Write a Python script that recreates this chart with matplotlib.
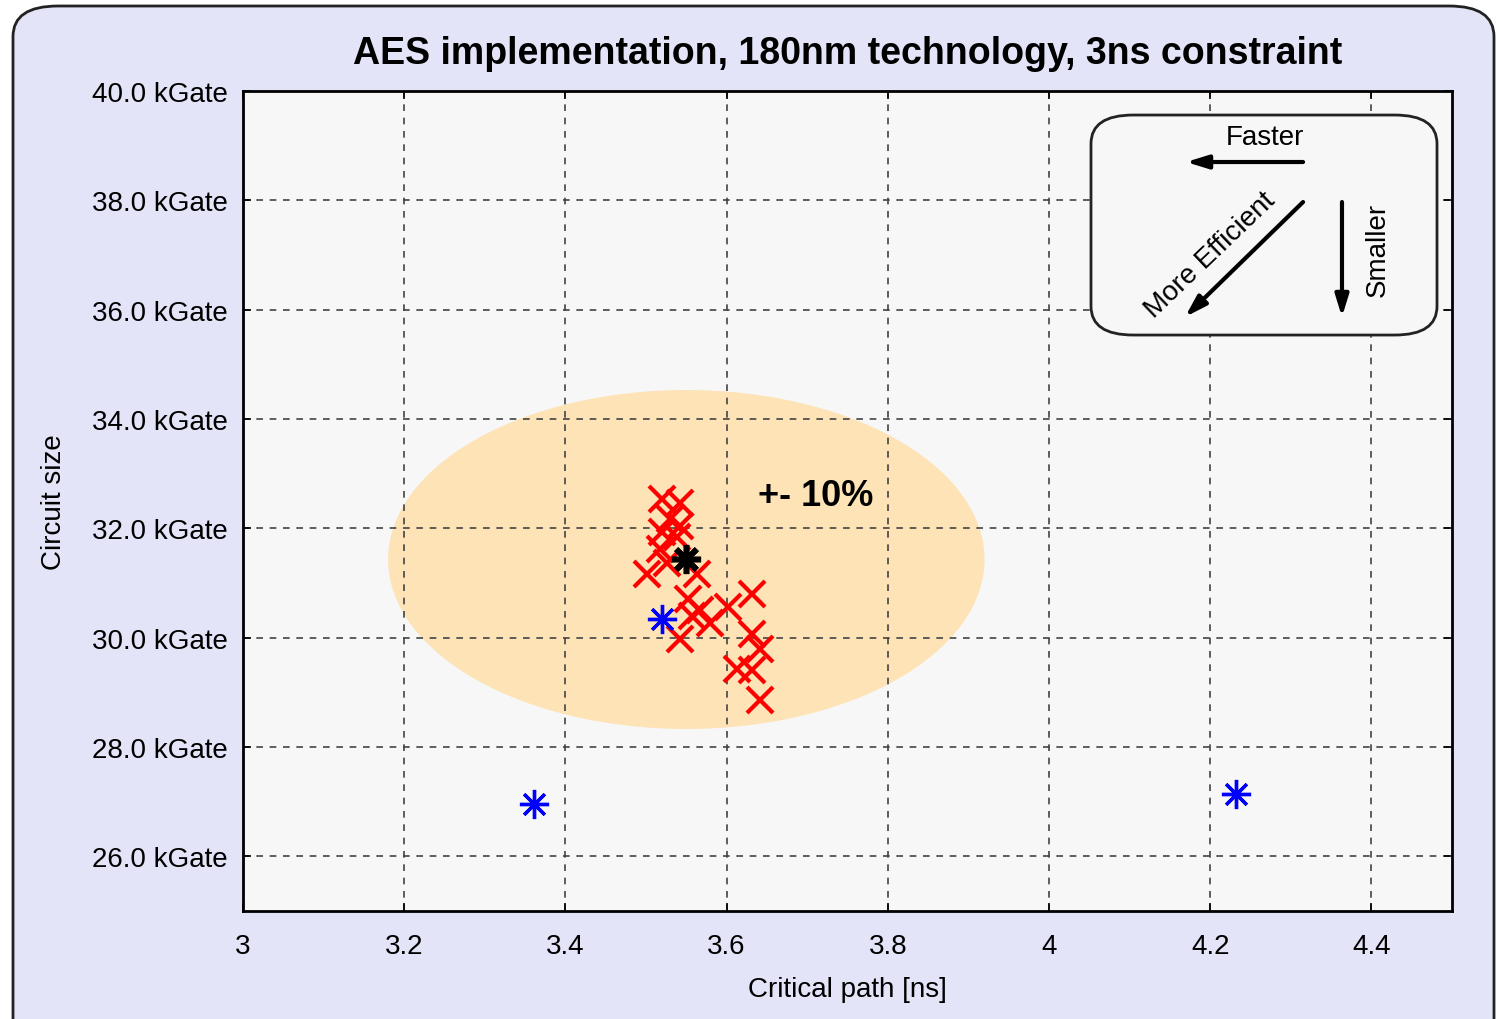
import matplotlib.pyplot as plt
from matplotlib.patches import Ellipse, FancyBboxPatch
from matplotlib.ticker import FormatStrFormatter

plt.rcParams['font.family'] = ['Liberation Sans', 'DejaVu Sans']

# synthesis runs (critical path ns, size kGate)
red_x = [3.520, 3.542, 3.530, 3.542, 3.520, 3.538, 3.517, 3.501, 3.526, 3.563,
         3.552, 3.567, 3.579, 3.602, 3.632, 3.542, 3.557, 3.632, 3.641, 3.613,
         3.632, 3.641]
red_y = [32.53, 32.46, 32.17, 32.04, 31.94, 31.85, 31.63, 31.16, 31.36, 31.16,
         30.70, 30.51, 30.26, 30.57, 30.79, 29.98, 30.39, 30.07, 29.80, 29.43,
         29.41, 28.86]
blue_x = [3.520, 3.361, 4.232]
blue_y = [30.35, 26.95, 27.14]
ref_x, ref_y = 3.550, 31.43
spread_w, spread_h = 0.74, 6.2

xticks = [3, 3.2, 3.4, 3.6, 3.8, 4, 4.2, 4.4]
yticks = [26, 28, 30, 32, 34, 36, 38, 40]

fig = plt.figure(figsize=(14.97, 10.20), dpi=100)
fig.patch.set_facecolor('white')
frame = FancyBboxPatch((13 / 1497, -0.05), (1494 - 13) / 1497, 1.05 - 7 / 1020,
                       boxstyle='round,pad=0,rounding_size=0.03',
                       transform=fig.transFigure, facecolor='#e4e4f8',
                       edgecolor='#222222', linewidth=2, zorder=-1)
fig.patches.append(frame)

ax = fig.add_axes([243 / 1497, 1 - 912 / 1020, 1209 / 1497, 820 / 1020])
ax.set_zorder(1)
ax.set_facecolor('#f7f7f7')

ax.add_patch(Ellipse((ref_x, ref_y), spread_w, spread_h, facecolor='#fde3b6',
                     edgecolor='none', zorder=1))

ax.plot(red_x, red_y, 'x', color='red', markersize=19, markeredgewidth=3,
        linestyle='none', zorder=3)
ax.plot(blue_x, blue_y, linestyle='none', marker=(8, 2, 0), color='blue',
        markersize=21, markeredgewidth=2.4, zorder=4)
ax.plot([ref_x], [ref_y], linestyle='none', marker=(8, 2, 0), color='black',
        markersize=21, markeredgewidth=4, zorder=5)

ax.text(3.71, 32.6, '+- 10%', fontsize=26, fontweight='bold', ha='center',
        va='center', zorder=6)

ax.set_xlim(3, 4.5)
ax.set_ylim(25, 40)
ax.set_xticks(xticks)
ax.set_yticks(yticks)
ax.xaxis.set_major_formatter(FormatStrFormatter('%g'))
ax.yaxis.set_major_formatter(FormatStrFormatter('%.1f kGate'))
ax.tick_params(direction='in', length=6, width=1.2, labelsize=20, pad=16,
               top=True, right=True)
ax.tick_params(axis='y', pad=11)
ax.grid(True, linestyle=(0, (4, 4)), color='#444444', linewidth=1.2, zorder=2)
ax.set_axisbelow(False)
for sp in ax.spines.values():
    sp.set_linewidth(2)
    sp.set_zorder(7)

ax.set_xlabel('Critical path [ns]', fontsize=20, labelpad=12)
ax.set_ylabel('Circuit size', fontsize=20, labelpad=18)
ax.set_title('AES implementation, 180nm technology, 3ns constraint',
             fontsize=27, fontweight='bold', pad=20, x=0.5)

# legend-like inset explaining directions
box = FancyBboxPatch((0.7014, 0.7024), 0.2862, 0.2683,
                     boxstyle='round,pad=0,rounding_size=0.035',
                     transform=ax.transAxes, facecolor='#f7f7f7',
                     edgecolor='#222222', linewidth=2, zorder=8)
ax.add_patch(box)
arrow = dict(arrowstyle='-|>,head_length=1.3,head_width=0.4', color='black',
             lw=3, shrinkA=0, shrinkB=0)
ax.annotate('', xy=(0.780, 0.9134), xytext=(0.8768, 0.9134),
            xycoords='axes fraction', arrowprops=arrow, zorder=9)
ax.annotate('', xy=(0.7792, 0.7244), xytext=(0.8768, 0.8646),
            xycoords='axes fraction', arrowprops=arrow, zorder=9)
ax.annotate('', xy=(0.909, 0.7244), xytext=(0.909, 0.8646),
            xycoords='axes fraction', arrowprops=arrow, zorder=9)
ax.text(0.8453, 0.9439, 'Faster', transform=ax.transAxes, fontsize=20,
        ha='center', va='center', zorder=9)
ax.text(0.800, 0.8, 'More Efficient', transform=ax.transAxes, fontsize=20,
        ha='center', va='center', rotation=43.7, zorder=9)
ax.text(0.9388, 0.807, 'Smaller', transform=ax.transAxes, fontsize=20,
        ha='center', va='center', rotation=90, zorder=9)

fig.savefig('out.png', dpi=100)
